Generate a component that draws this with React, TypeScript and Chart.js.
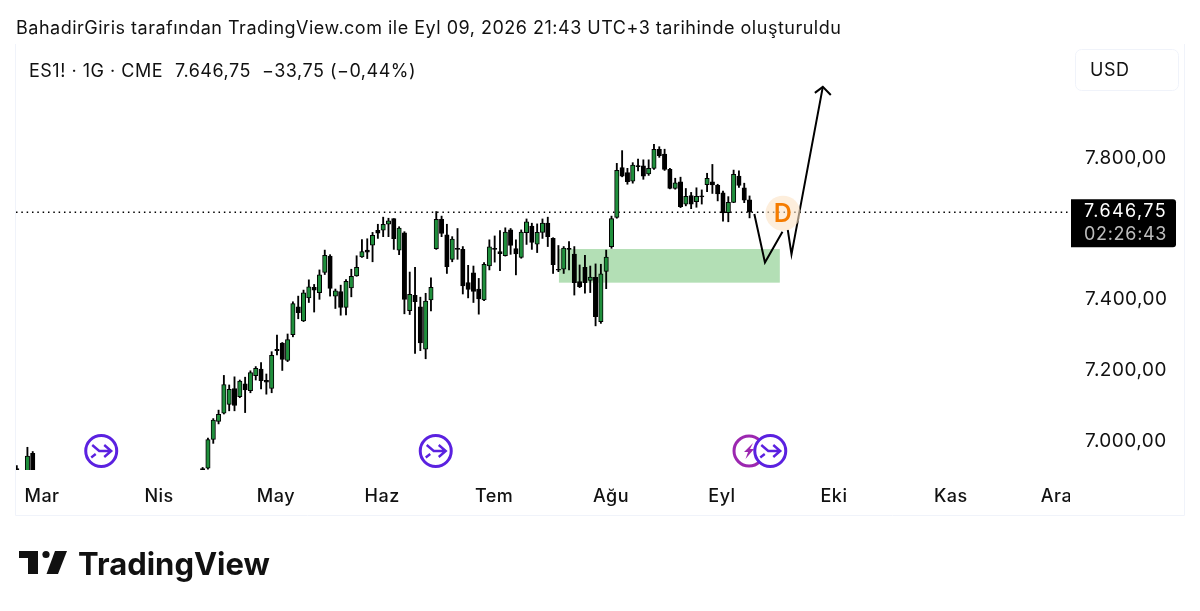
import React, { useEffect, useRef } from "react";
import { Chart, registerables } from "chart.js";

Chart.register(...registerables);

const titleText = "BahadirGiris tarafından TradingView.com ile Eyl 09, 2026 21:43 UTC+3 tarihinde oluşturuldu";
const monthLabels = ["Mar", "Nis", "May", "Haz", "Tem", "Ağu", "Eyl", "Eki", "Kas", "Ara"];
const monthTicks = [2.75, 24.8, 46.8, 66.8, 87.9, 109.9, 130.8, 151.9, 173.9, 193.8];
const priceTicks = [7000, 7200, 7400, 7600, 7800];
const lastPrice = 7646.75;
// The values below were read against a scale one pixel too high: this corrects them
const readingOffset = 2.8;

const dayIndex = [-2, 0, 1, 33, 34, 35, 36, 37, 38, 39, 40, 41, 42, 43, 44, 45, 46, 47, 48, 49, 50, 51, 52, 53, 54, 55, 56, 57, 58, 59, 60, 61, 62, 63, 64, 65, 66, 67, 68, 69, 70, 71, 72, 73, 74, 75, 76, 77, 78, 79, 80, 81, 82, 83, 84, 85, 86, 87, 88, 89, 90, 91, 92, 93, 94, 95, 96, 97, 98, 99, 100, 101, 102, 103, 104, 105, 106, 107, 108, 109, 110, 111, 112, 113, 114, 115, 116, 117, 118, 119, 120, 121, 122, 123, 124, 125, 126, 127, 128, 129, 130, 131, 132, 133, 134, 135, 136];
const opens = [6920, 6905, 6963, 6920, 6921, 7002, 7053, 7076, 7101, 7146, 7123, 7159, 7140, 7182, 7201, 7169, 7146, 7257, 7274, 7225, 7298, 7377, 7337, 7402, 7432, 7417, 7474, 7520, 7407, 7420, 7375, 7430, 7464, 7518, 7537, 7551, 7593, 7593, 7610, 7626, 7537, 7586, 7366, 7409, 7377, 7257, 7396, 7541, 7624, 7580, 7511, 7542, 7539, 7445, 7473, 7427, 7396, 7492, 7542, 7533, 7521, 7594, 7541, 7516, 7586, 7605, 7554, 7587, 7613, 7570, 7483, 7483, 7542, 7526, 7448, 7488, 7451, 7460, 7335, 7477, 7547, 7629, 7770, 7756, 7732, 7776, 7775, 7752, 7768, 7822, 7808, 7765, 7711, 7730, 7667, 7691, 7674, 7690, 7722, 7730, 7720, 7699, 7643, 7672, 7746, 7713, 7679];
const highs = [6928, 6980, 6968, 6923, 7006, 7061, 7085, 7183, 7156, 7179, 7170, 7178, 7196, 7208, 7219, 7187, 7250, 7297, 7276, 7300, 7391, 7407, 7424, 7453, 7440, 7481, 7537, 7524, 7427, 7438, 7454, 7483, 7521, 7567, 7569, 7587, 7610, 7630, 7627, 7626, 7603, 7589, 7475, 7488, 7404, 7415, 7459, 7646, 7633, 7610, 7575, 7598, 7547, 7494, 7492, 7457, 7502, 7566, 7577, 7592, 7600, 7598, 7566, 7594, 7625, 7613, 7611, 7625, 7630, 7572, 7550, 7547, 7561, 7547, 7495, 7522, 7492, 7498, 7497, 7537, 7633, 7782, 7818, 7768, 7784, 7794, 7792, 7792, 7836, 7829, 7822, 7768, 7740, 7743, 7711, 7700, 7713, 7707, 7754, 7779, 7723, 7704, 7688, 7763, 7761, 7726, 7690];
const lows = [6895, 6895, 6912, 6900, 6918, 6991, 7046, 7074, 7083, 7083, 7120, 7078, 7134, 7170, 7145, 7130, 7134, 7241, 7197, 7222, 7292, 7343, 7335, 7389, 7362, 7398, 7468, 7407, 7372, 7353, 7354, 7405, 7463, 7516, 7513, 7504, 7570, 7575, 7575, 7539, 7524, 7357, 7355, 7245, 7253, 7230, 7365, 7539, 7575, 7471, 7504, 7511, 7413, 7402, 7389, 7356, 7394, 7481, 7503, 7479, 7520, 7525, 7467, 7514, 7553, 7539, 7530, 7570, 7547, 7471, 7476, 7471, 7481, 7410, 7431, 7415, 7417, 7323, 7330, 7428, 7542, 7627, 7744, 7723, 7726, 7761, 7737, 7748, 7765, 7799, 7762, 7710, 7709, 7657, 7662, 7654, 7658, 7667, 7702, 7697, 7676, 7619, 7617, 7671, 7714, 7671, 7628];
const closes = [6905, 6955, 6916, 6908, 7002, 7057, 7073, 7157, 7144, 7098, 7167, 7142, 7191, 7203, 7168, 7164, 7240, 7253, 7228, 7284, 7386, 7360, 7416, 7433, 7424, 7467, 7522, 7429, 7422, 7375, 7449, 7463, 7488, 7533, 7531, 7579, 7585, 7610, 7620, 7569, 7599, 7398, 7412, 7391, 7275, 7393, 7432, 7624, 7584, 7490, 7568, 7539, 7436, 7426, 7420, 7399, 7497, 7546, 7539, 7527, 7588, 7550, 7526, 7588, 7617, 7559, 7587, 7613, 7575, 7496, 7480, 7543, 7539, 7445, 7434, 7445, 7461, 7349, 7470, 7517, 7626, 7762, 7746, 7730, 7777, 7773, 7746, 7768, 7822, 7804, 7765, 7711, 7727, 7660, 7689, 7667, 7689, 7687, 7740, 7721, 7696, 7642, 7672, 7751, 7720, 7678, 7643.95];

// Projected path drawn on the chart (day index, price); null breaks the line
const pathX = [136.9, 138.9, 142.2, 142.7, 143.2, 143.9, 149.8];
const pathY = [7639, 7502, 7589, null, 7594, 7525, 7998];
const headX = [148.3, 149.8, 151.3];
const headY = [7981, 7998, 7975];
const zoneDays = [100.1, 141.7];
const zonePrices = [7445, 7540];
const splitDays = [13.9, 76.9, 139.9];
const earningsDays = [135.9];
const dividendDay = 142.3;

const FONT = "Inter, 'Noto Sans', sans-serif";
const INK = "#111111";
const fmt = (v: number) => new Intl.NumberFormat("de-DE", { minimumFractionDigits: 2, maximumFractionDigits: 2 }).format(v);

function roundRect(ctx: CanvasRenderingContext2D, x: number, y: number, w: number, h: number, r: number | number[]) {
  ctx.beginPath();
  ctx.roundRect(x, y, w, h, r);
}

const overlay = {
  id: "overlay",
  beforeDraw(chart: any) {
    (chart.ctx as any).letterSpacing = "0.5px";
  },
  beforeDatasetsDraw(chart: any) {
    const { ctx, scales: { x, y } } = chart;
    ctx.save();
    ctx.fillStyle = "#b3dfb5";
    const px = x.getPixelForValue(zoneDays[0]);
    const py = y.getPixelForValue(zonePrices[1] + readingOffset);
    ctx.fillRect(px, py, x.getPixelForValue(zoneDays[1]) - px, y.getPixelForValue(zonePrices[0] + readingOffset) - py);
    ctx.restore();
  },
  afterDatasetsDraw(chart: any) {
    const { ctx, scales: { x, y }, chartArea } = chart;
    ctx.save();
    // Dividend marker
    const dx = x.getPixelForValue(dividendDay);
    const dy = y.getPixelForValue(lastPrice) + 1;
    ctx.beginPath();
    ctx.arc(dx, dy, 17.5, 0, Math.PI * 2);
    ctx.fillStyle = "rgba(252, 226, 196, 0.6)";
    ctx.fill();
    ctx.fillStyle = "#f57c00";
    ctx.font = `600 25px ${FONT}`;
    ctx.textAlign = "center";
    ctx.textBaseline = "middle";
    ctx.fillText("D", dx, dy + 1);

    const cy = chartArea.bottom - 19;
    earningsDays.forEach((d) => {
      const cx = x.getPixelForValue(d);
      ctx.beginPath();
      ctx.arc(cx, cy, 15, 0, Math.PI * 2);
      ctx.fillStyle = "#fff";
      ctx.fill();
      ctx.lineWidth = 3;
      ctx.strokeStyle = "#9c27b0";
      ctx.stroke();
      ctx.beginPath();
      const pts = [[4, -8], [-5, 1], [-1, 1], [-3.5, 8], [5, -2], [1, -2]];
      pts.forEach(([a, b], i) => (i ? ctx.lineTo(cx + a, cy + b) : ctx.moveTo(cx + a, cy + b)));
      ctx.closePath();
      ctx.fillStyle = "#9c27b0";
      ctx.fill();
    });
    splitDays.forEach((d) => {
      const cx = x.getPixelForValue(d);
      ctx.beginPath();
      ctx.arc(cx, cy, 15.5, 0, Math.PI * 2);
      ctx.fillStyle = "#fff";
      ctx.fill();
      ctx.lineWidth = 3;
      ctx.strokeStyle = "#5b21e0";
      ctx.stroke();
      ctx.lineWidth = 2.4;
      ctx.beginPath();
      ctx.moveTo(cx - 9, cy - 6);
      ctx.lineTo(cx - 2, cy);
      ctx.lineTo(cx + 10, cy);
      ctx.moveTo(cx + 3, cy - 6);
      ctx.lineTo(cx + 10, cy);
      ctx.lineTo(cx + 3, cy + 6);
      ctx.moveTo(cx - 10, cy + 6.5);
      ctx.lineTo(cx - 5.5, cy + 3);
      ctx.stroke();
    });
    ctx.restore();
  },
  afterDraw(chart: any) {
    const { ctx, chartArea, scales: { y } } = chart;
    ctx.save();
    // Hide the part of the last month label that runs under the price axis
    ctx.fillStyle = "#fff";
    ctx.fillRect(chartArea.right, chartArea.bottom + 2, 20, 40);

    // Frame
    ctx.strokeStyle = "#f0f3fa";
    ctx.lineWidth = 1;
    ctx.beginPath();
    ctx.moveTo(15.5, 44);
    ctx.lineTo(15.5, 515.5);
    ctx.lineTo(1184.5, 515.5);
    ctx.lineTo(1184.5, 44);
    ctx.stroke();

    // Header
    ctx.textBaseline = "middle";
    ctx.textAlign = "left";
    ctx.font = `400 18px ${FONT}`;
    ctx.fillStyle = INK;
    ctx.fillText("ES1! · 1G · CME", 29, 71.5);
    ctx.fillText("7.646,75", 175, 71.5);
    ctx.fillText("−33,75 (−0,44%)", 262, 71.5);

    // Currency button
    roundRect(ctx, 1075.5, 49.5, 103, 41, 6);
    ctx.stroke();
    ctx.fillText("USD", 1090, 70.5);

    // Last price tag
    const py = y.getPixelForValue(lastPrice);
    roundRect(ctx, 1071, py - 13, 105, 48, [0, 3, 3, 0]);
    ctx.fillStyle = "#000";
    ctx.fill();
    ctx.letterSpacing = "1.4px";
    ctx.fillStyle = "#fff";
    ctx.fillText(fmt(lastPrice), 1084, py - 0.5);
    ctx.letterSpacing = "0.7px";
    ctx.fillStyle = "#bdbdbd";
    ctx.fillText("02:26:43", 1084, py + 22);

    // TradingView logo
    ctx.letterSpacing = "0px";
    ctx.fillStyle = INK;
    ctx.fillRect(19, 551, 19, 7);
    ctx.fillRect(28, 551, 10, 23);
    ctx.beginPath();
    ctx.arc(46, 554.5, 3.6, 0, Math.PI * 2);
    ctx.fill();
    ctx.beginPath();
    ctx.moveTo(55, 551);
    ctx.lineTo(67, 551);
    ctx.lineTo(58, 574);
    ctx.lineTo(46.5, 574);
    ctx.closePath();
    ctx.fill();
    ctx.font = `700 31px ${FONT}`;
    ctx.textBaseline = "alphabetic";
    ctx.fillText("TradingView", 78, 575);
    ctx.restore();
  },
};

export default function App() {
  const ref = useRef<HTMLCanvasElement>(null);
  useEffect(() => {
    const idx = dayIndex;
    const bodyColors = idx.map((_, i) => (closes[i] >= opens[i] ? "#1f8f3c" : "#000000"));
    const chart = new Chart(ref.current!, {
      type: "bar",
      data: {
        datasets: [
          {
            type: "line",
            label: "Projected path",
            data: pathX.map((v, i) => ({ x: v, y: pathY[i] === null ? null : (pathY[i] as number) + readingOffset })) as any,
            borderColor: "#000000",
            borderWidth: 2,
            pointRadius: 0,
            spanGaps: false,
            order: 0,
          },
          {
            type: "line",
            label: "Arrow head",
            data: headX.map((v, i) => ({ x: v, y: headY[i] + readingOffset })) as any,
            borderColor: "#000000",
            borderWidth: 2,
            pointRadius: 0,
            order: 0,
          },
          {
            type: "bar",
            label: "Body",
            data: idx.map((d, i) => ({ x: d, y: [opens[i] + readingOffset, closes[i] + readingOffset] })) as any,
            backgroundColor: bodyColors,
            borderColor: "#000000",
            borderWidth: 1,
            borderSkipped: false,
            barThickness: 4.4,
            grouped: false,
            order: 1,
          },
          {
            type: "bar",
            label: "Wick",
            data: idx.map((d, i) => ({ x: d, y: [lows[i] + readingOffset, highs[i] + readingOffset] })) as any,
            backgroundColor: "#000000",
            barThickness: 1.2,
            grouped: false,
            order: 2,
          },
          {
            type: "line",
            label: "Last price",
            data: [{ x: -2.15, y: lastPrice }, { x: 196.35, y: lastPrice }] as any,
            borderColor: "#000000",
            borderWidth: 1.5,
            borderDash: [1.5, 3.83],
            pointRadius: 0,
            order: 3,
          },
        ],
      } as any,
      options: {
        responsive: false,
        animation: false,
        layout: { autoPadding: false, padding: { left: 16, right: 16, top: 18, bottom: 96 } },
        plugins: {
          legend: { display: false },
          tooltip: { enabled: false },
          title: {
            display: true,
            text: titleText,
            align: "start",
            color: INK,
            font: { family: FONT, size: 18, weight: "400", lineHeight: 1.2 },
            padding: { top: 0, bottom: 8.4 },
          },
        },
        scales: {
          x: {
            type: "linear",
            offset: false,
            min: -2.15,
            max: 196.35,
            grid: { display: false },
            border: { display: false },
            afterBuildTicks: (axis: any) => {
              axis.ticks = monthTicks.map((v) => ({ value: v }));
            },
            afterFit: (axis: any) => {
              axis.height = 45;
            },
            ticks: {
              autoSkip: false,
              maxRotation: 0,
              padding: 8,
              color: INK,
              font: { family: FONT, size: 18, weight: "500" },
              callback: (_: any, i: number) => monthLabels[i],
            },
          },
          y: {
            position: "right",
            min: 6918.6,
            max: 8110.7,
            grid: { display: false },
            border: { display: false },
            afterBuildTicks: (axis: any) => {
              axis.ticks = priceTicks.map((v) => ({ value: v }));
            },
            afterFit: (axis: any) => {
              axis.width = 114;
            },
            ticks: {
              padding: 7,
              color: INK,
              font: { family: FONT, size: 19 },
              callback: (v: any) => fmt(Number(v)),
            },
          },
        },
      } as any,
      plugins: [overlay],
    });
    return () => chart.destroy();
  }, []);
  return (
    <canvas
      ref={ref}
      width={1200}
      height={611}
      style={{ position: "absolute", left: 0, top: 0, width: 1200, height: 611, display: "block", background: "#fff" }}
    />
  );
}
